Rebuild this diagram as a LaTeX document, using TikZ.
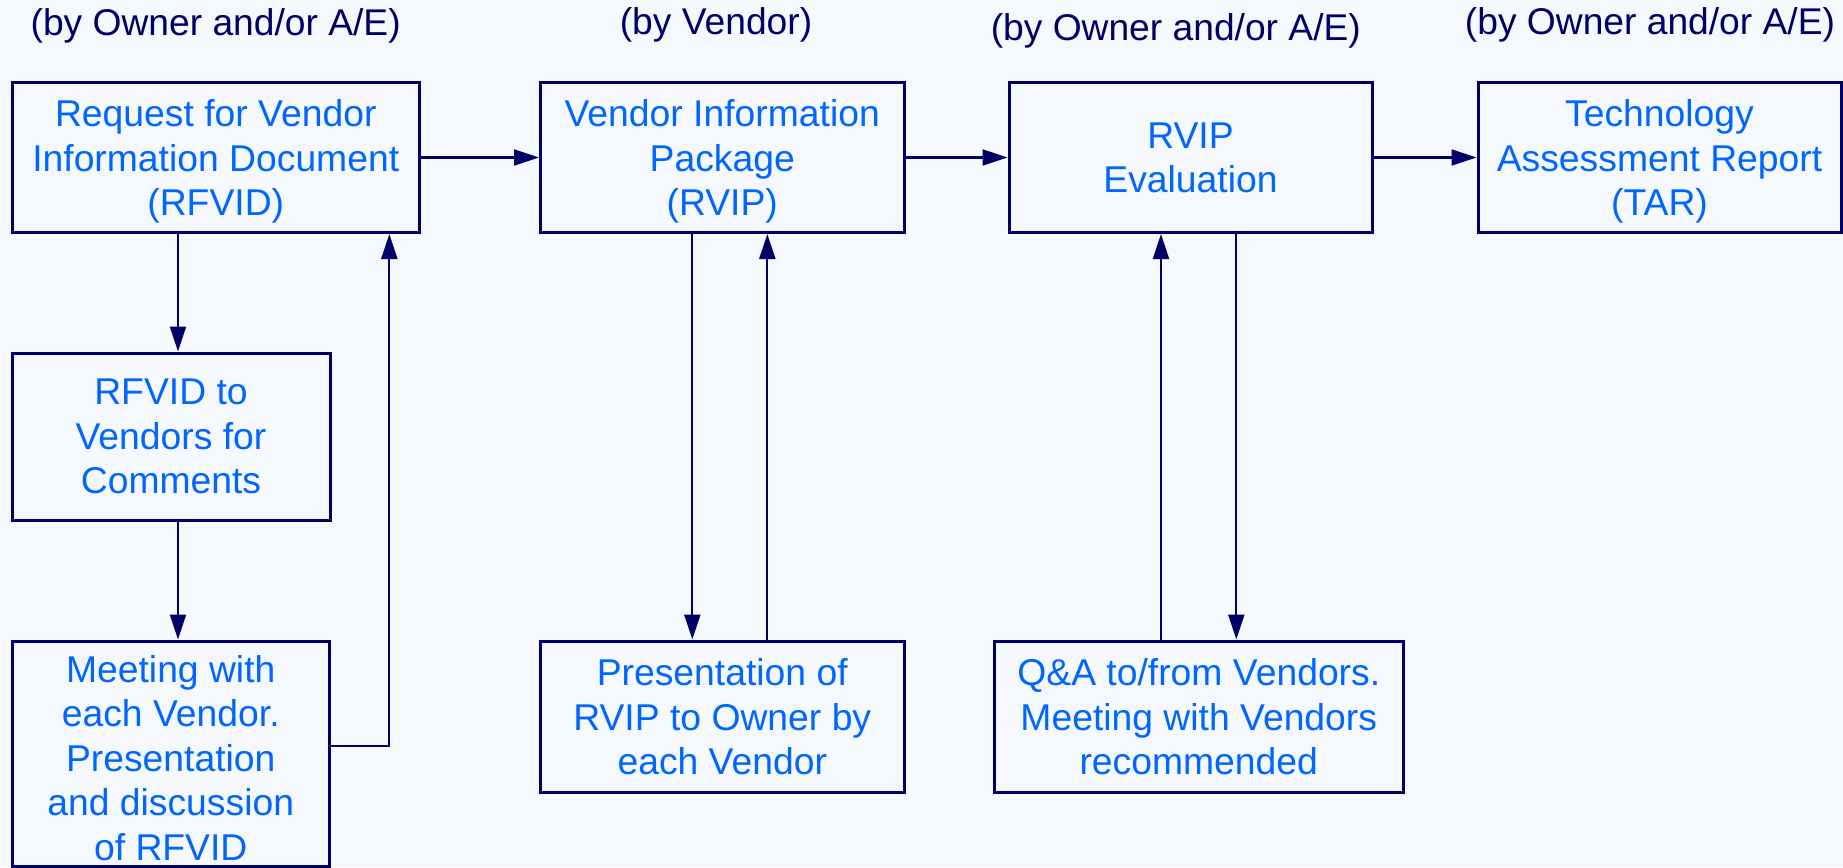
\documentclass[tikz,border=0pt]{standalone}
\usepackage{fontspec}
\setmainfont{Liberation Sans}
\usetikzlibrary{arrows.meta}
\definecolor{navy}{HTML}{000066}
\definecolor{txtblue}{HTML}{0066FF}
\definecolor{bgcol}{HTML}{F5F8FD}
\begin{document}
\begin{tikzpicture}[x=1pt,y=-1pt,
  box/.style={draw=navy, line width=3pt, rectangle, inner sep=0pt,
    text=txtblue, align=center, text depth=0pt, font=\fontsize{37.3}{44.5}\selectfont},
  hdr/.style={text=navy, anchor=base, inner sep=0pt, font=\fontsize{37.2}{44.5}\selectfont},
  arr/.style={draw=navy, line width=2.2pt, -{Triangle[length=25pt,width=16pt]}}]
\fill[bgcol] (0,0) rectangle (1843,867);
\useasboundingbox (0,0) rectangle (1843,867);

\node[hdr] (h1) at (215.7,36) {(by Owner and/or A/E)};
\node[hdr] (h2) at (716,35) {(by Vendor)};
\node[hdr] (h3) at (1175.8,41) {(by Owner and/or A/E)};
\node[hdr] (h4) at (1650,35) {(by Owner and/or A/E)};

\node[box, minimum width=407.5pt, minimum height=150pt] (b1) at (215.75,157.5)
  {Request for Vendor\\Information Document\\(RFVID)};
\node[box, minimum width=363.5pt, minimum height=150pt] (b2) at (722.25,157.5)
  {Vendor Information\\Package\\(RVIP)};
\node[box, minimum width=363pt, minimum height=150pt] (b3) at (1190.5,157.5)
  {RVIP\\Evaluation};
\node[box, minimum width=363pt, minimum height=150pt] (b4) at (1659.5,157.5)
  {Technology\\Assessment Report\\(TAR)};
\node[box, minimum width=318pt, minimum height=167pt] (b5) at (171,436.5)
  {RFVID to\\Vendors for\\Comments};
\node[box, minimum width=317.5pt, minimum height=225pt, text height=213pt] (b6) at (170.75,753.5)
  {Meeting with\\each Vendor.\\Presentation\\and discussion\\of RFVID};
\node[box, minimum width=363.5pt, minimum height=151pt] (b7) at (722.25,716.5)
  {Presentation of\\RVIP to Owner by\\each Vendor};
\node[box, minimum width=408.5pt, minimum height=151pt] (b8) at (1198.75,716.5)
  {Q\&A to/from Vendors.\\Meeting with Vendors\\recommended};

\coordinate (cA) at (178,0);
\coordinate (cL) at (389.3,746);
\coordinate (cB) at (692.3,0);
\coordinate (cC) at (767.3,0);
\coordinate (cD) at (1161,0);
\coordinate (cE) at (1236.3,0);

\draw[arr] (b1.east) -- (b2.west);
\draw[arr] (b2.east) -- (b3.west);
\draw[arr] (b3.east) -- (b4.west);
\draw[arr] (b1.south -| cA) -- (b5.north -| cA);
\draw[arr] (b5.south -| cA) -- (b6.north -| cA);
\draw[arr] (b6.east |- cL) -| (b1.south -| cL);
\draw[arr] (b2.south -| cB) -- (b7.north -| cB);
\draw[arr] (b7.north -| cC) -- (b2.south -| cC);
\draw[arr] (b8.north -| cD) -- (b3.south -| cD);
\draw[arr] (b3.south -| cE) -- (b8.north -| cE);
\end{tikzpicture}
\end{document}
